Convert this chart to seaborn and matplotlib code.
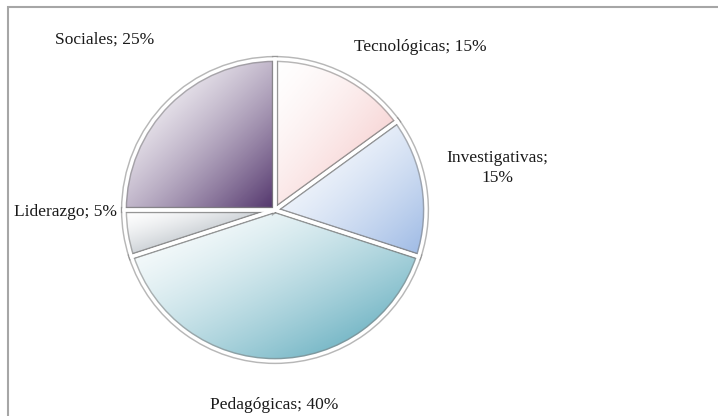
import numpy as np
import matplotlib
matplotlib.use("Agg")
import matplotlib.pyplot as plt
from matplotlib.patches import Rectangle, Wedge
from matplotlib.colors import LinearSegmentedColormap
import seaborn as sns

categories = ["Tecnológicas", "Investigativas", "Pedagógicas", "Liderazgo", "Sociales"]
values = [15, 15, 40, 5, 25]
colors = ["#f3bcbc", "#9bb8e4", "#4aa0b4", "#74828f", "#50326a"]

sns.set_theme(style="white")
plt.rcParams['font.family'] = ['Liberation Serif', 'DejaVu Serif']

W, H = 718, 416
fig = plt.figure(figsize=(W / 100, H / 100), dpi=100)
fig.patch.set_facecolor("white")
ax = fig.add_axes([0, 0, 1, 1])

cx, cy, R = 275, H - 210, 151
wedges, _ = ax.pie(values, startangle=90, counterclock=False, center=(cx, cy),
                   radius=R, colors=["none"] * len(values),
                   wedgeprops=dict(linewidth=0), frame=True)

n = 200
jj, ii = np.meshgrid(np.linspace(0, 1, n), np.linspace(0, 1, n))
grad = ((jj + ii) / 2.0) ** 1.5
for w, c in zip(wedges, colors):
    ext = w.get_path().get_extents()
    cmap = LinearSegmentedColormap.from_list("g", ["#ffffff", c])
    im = ax.imshow(grad, cmap=cmap, vmin=0, vmax=1, origin="upper",
                   extent=(ext.x0, ext.x1, ext.y0, ext.y1), interpolation="bilinear",
                   zorder=1)
    im.set_clip_path(w)

# bevel edges
for w in wedges:
    w.set_zorder(2)
    w.set_facecolor("none")
    w.set_edgecolor("#7d7d7d")
    w.set_linewidth(4.5)
    w.set_alpha(0.55)
for w in wedges:
    ww = Wedge(w.center, w.r, w.theta1, w.theta2, facecolor="none",
               edgecolor="white", linewidth=2.4, zorder=3)
    ax.add_patch(ww)

ax.set_xlim(0, W)
ax.set_ylim(0, H)
ax.set_aspect("equal")
ax.axis("off")

labels = [f"{c}; {v}%" for c, v in zip(categories, values)]
labels[1] = f"{categories[1]};\n{values[1]}%"
label_pos = [(420, 47), (497, 168), (274, 405), (65, 212), (105, 40)]
for lab, (x, y) in zip(labels, label_pos):
    ax.text(x, H - y, lab, ha="center", va="center", fontsize=12.5,
            color="#1a1a1a", linespacing=1.25)

fig.patches.append(Rectangle((8 / W, -0.1), 1.2, 1.1 - 7 / H, transform=fig.transFigure,
                             facecolor="none", edgecolor="#a6a6a6", linewidth=1.5))

fig.savefig("out.png", dpi=100)
